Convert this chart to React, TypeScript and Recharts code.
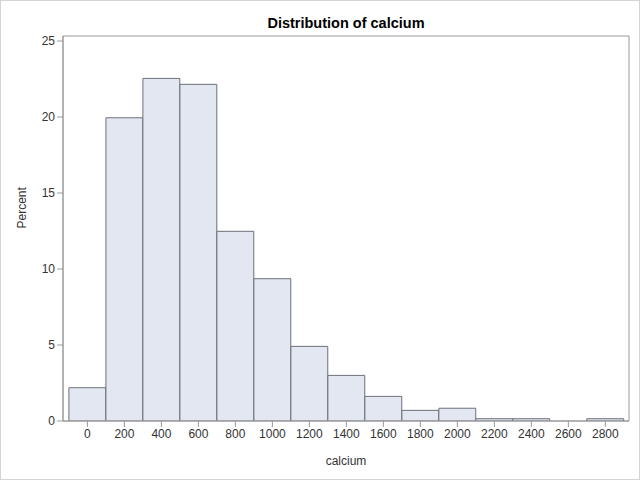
import { BarChart, Bar, XAxis, YAxis, ReferenceArea } from 'recharts'

// histogram bin midpoints (calcium) and percent per bin
const midpoints = [0, 200, 400, 600, 800, 1000, 1200, 1400, 1600, 1800, 2000, 2200, 2400, 2600, 2800]
const percents = [2.19, 19.95, 22.54, 22.15, 12.48, 9.36, 4.91, 3.0, 1.62, 0.7, 0.84, 0.15, 0.15, 0, 0.15]
const yTicks = [0, 5, 10, 15, 20, 25]

const data = midpoints.map((m, i) => ({ calcium: m, pct: percents[i] }))

const xDomain: [number, number] = [-132, 2928]
const yDomain: [number, number] = [0, 25.33]
const font = '"Liberation Sans", Arial, sans-serif'

export default function App() {
  return (
    <div
      style={{
        position: 'absolute',
        left: 0,
        top: 0,
        width: 640,
        height: 480,
        boxSizing: 'border-box',
        border: '1px solid #d4d4d4',
        background: '#fff',
        fontFamily: font,
      }}
    >
      {/* title sits centred over the plot box, not the whole frame */}
      <div
        style={{
          position: 'absolute',
          top: 14,
          left: 62,
          width: 566,
          textAlign: 'center',
          fontSize: 14.5,
          fontWeight: 'bold',
          color: '#000',
        }}
      >
        Distribution of calcium
      </div>
      <BarChart
        width={638}
        height={478}
        data={data}
        margin={{ top: 35, right: 10, left: 0, bottom: 0 }}
        barCategoryGap={0}
      >
        <XAxis
          dataKey="calcium"
          type="number"
          domain={xDomain}
          ticks={midpoints}
          allowDataOverflow
          height={58}
          tick={{ fontSize: 12, fill: '#333', fontFamily: font }}
          tickLine={{ stroke: '#999' }}
          axisLine={{ stroke: '#999' }}
          tickSize={6}
          label={{ value: 'calcium', position: 'insideBottom', offset: 14, fontSize: 12, fill: '#333', fontFamily: font }}
        />
        <YAxis
          type="number"
          domain={yDomain}
          ticks={yTicks}
          allowDataOverflow
          width={62}
          tick={{ fontSize: 12, fill: '#333', fontFamily: font }}
          tickLine={{ stroke: '#999' }}
          axisLine={{ stroke: '#999' }}
          tickSize={6}
          label={{ value: 'Percent', angle: -90, position: 'insideLeft', offset: 21, fontSize: 12, fill: '#333', fontFamily: font }}
        />
        <Bar
          dataKey="pct"
          barSize={36.9}
          fill="#e3e7f1"
          stroke="#6b7079"
          strokeWidth={1}
          isAnimationActive={false}
        />
        <ReferenceArea
          x1={xDomain[0]}
          x2={xDomain[1]}
          y1={yDomain[0]}
          y2={yDomain[1]}
          fill="none"
          fillOpacity={0}
          stroke="#999"
          strokeWidth={1}
          ifOverflow="visible"
        />
      </BarChart>
    </div>
  )
}
